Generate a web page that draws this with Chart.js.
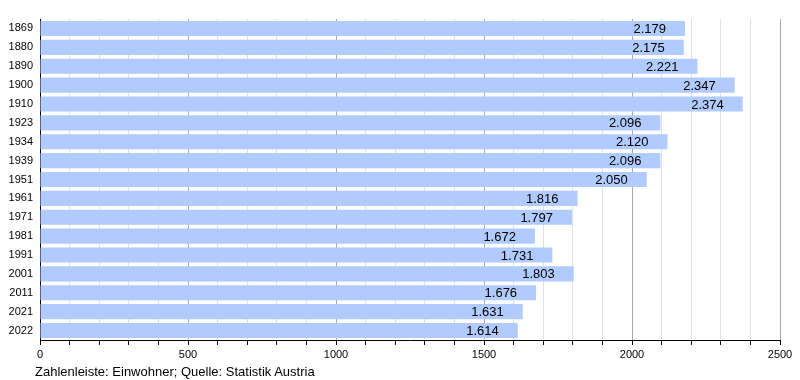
<!DOCTYPE html>
<html>
<head>
<meta charset="utf-8">
<script src="https://cdn.jsdelivr.net/npm/chart.js@4"></script>
<style>
  html, body { margin: 0; padding: 0; background: #fff; }
  #wrap { position: relative; width: 800px; height: 380px; }
  #footer { position: absolute; left: 35px; top: 364px; font: 13px "Liberation Sans", Arial, sans-serif; color: #000; line-height: 15px; }
</style>
</head>
<body>
<div id="wrap">
  <canvas id="c" width="800" height="380"></canvas>
  <div id="footer">Zahlenleiste: Einwohner; Quelle: Statistik Austria</div>
</div>
<script>
const years = ["1869","1880","1890","1900","1910","1923","1934","1939","1951","1961","1971","1981","1991","2001","2011","2021","2022"];
const population = [2179, 2175, 2221, 2347, 2374, 2096, 2120, 2096, 2050, 1816, 1797, 1672, 1731, 1803, 1676, 1631, 1614];
const xTickLabels = [0, 500, 1000, 1500, 2000, 2500];

function fmt(v) {
  return String(v).replace(/\B(?=(\d{3})+(?!\d))/g, ".");
}

const valueLabels = {
  id: 'valueLabels',
  afterDatasetsDraw(chart) {
    const ctx = chart.ctx;
    const meta = chart.getDatasetMeta(0);
    ctx.save();
    ctx.font = '13px "Liberation Sans", Arial, sans-serif';
    ctx.fillStyle = '#000';
    ctx.textAlign = 'right';
    ctx.textBaseline = 'middle';
    meta.data.forEach((bar, i) => {
      ctx.fillText(fmt(population[i]), bar.x - 19, bar.y + 1);
    });
    ctx.restore();
  }
};

new Chart(document.getElementById('c'), {
  type: 'bar',
  data: {
    labels: years,
    datasets: [{
      data: population,
      backgroundColor: '#b1cbfd',
      borderWidth: 0,
      barPercentage: 0.8,
      categoryPercentage: 1.0
    }]
  },
  options: {
    indexAxis: 'y',
    responsive: false,
    animation: false,
    layout: { padding: { top: 19, right: 20, bottom: 20, left: 0 } },
    plugins: { legend: { display: false }, tooltip: { enabled: false } },
    scales: {
      x: {
        min: 0, max: 2500,
        afterFit(s) { s.height = 20; },
        border: { display: true, color: '#000', width: 1 },
        grid: {
          drawTicks: true,
          tickLength: 5,
          tickColor: '#000',
          color: (c) => (c.tick && c.tick.value % 500 === 0) ? '#a8a8a8' : '#e0e0e0',
          lineWidth: 1
        },
        ticks: {
          stepSize: 100,
          autoSkip: false,
          maxRotation: 0,
          padding: 3,
          color: '#000',
          font: { family: '"Liberation Sans", Arial, sans-serif', size: 11 },
          callback: (v) => xTickLabels.includes(v) ? String(v) : ''
        }
      },
      y: {
        afterFit(s) { s.width = 40; },
        border: { display: true, color: '#000', width: 1 },
        grid: { display: false, drawTicks: false },
        ticks: {
          padding: 7,
          color: '#000',
          font: { family: '"Liberation Sans", Arial, sans-serif', size: 11 }
        }
      }
    }
  },
  plugins: [valueLabels]
});
</script>
</body>
</html>
